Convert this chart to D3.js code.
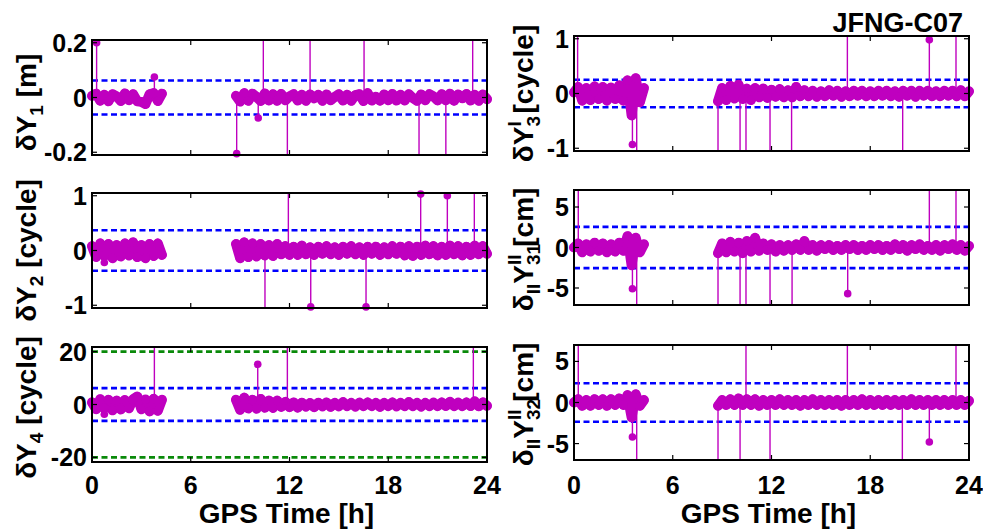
<!DOCTYPE html>
<html><head><meta charset="utf-8">
<script src="https://cdn.jsdelivr.net/npm/d3@7"></script>
<style>
body{margin:0;background:#fff}
svg{display:block}
text{font-family:"Liberation Sans",Arial,Helvetica,sans-serif;font-weight:bold;fill:#000}
</style>
</head><body>
<svg id="c" width="983" height="530"></svg>
<script>
// ---------------- DATA ----------------
const title = "JFNG-C07";
const xLabel = "GPS Time [h]";
const xTicks = [0, 6, 12, 18, 24];

// shared epochs (hours)
const epochs = [
  0, 0.25, 0.5, 0.75, 1, 1.25, 1.5, 1.75, 2, 2.25, 2.5, 2.75, 3, 3.25, 3.5, 3.75, 4, 4.25,
  8.75, 9, 9.25, 9.5, 9.75, 10, 10.25, 10.5, 10.75, 11, 11.25, 11.5, 11.75, 12, 12.25, 12.5,
  12.75, 13, 13.25, 13.5, 13.75, 14, 14.25, 14.5, 14.75, 15, 15.25, 15.5, 15.75, 16, 16.25,
  16.5, 16.75, 17, 17.25, 17.5, 17.75, 18, 18.25, 18.5, 18.75, 19, 19.25, 19.5, 19.75, 20,
  20.25, 20.5, 20.75, 21, 21.25, 21.5, 21.75, 22, 22.25, 22.5, 22.75, 23, 23.25, 23.5, 23.75, 24
];

// dY1 [m]
const dY1 = [
  0.006, 0.014, -0.012, 0.010, -0.014, 0.012, 0.004, -0.013, 0.015, -0.010, 0.012, -0.014, -0.016, -0.024, 0.012, 0.016, -0.013, 0.014,
  0.006, -0.015, 0.016, -0.012, 0.014, 0.002, -0.013, 0.015, -0.011, 0.012,
  -0.012, 0.013, -0.010, 0.004, 0.012, -0.011, 0.010, -0.012, 0.011, -0.003,
  0.010, -0.012, 0.011, -0.010, 0.002, 0.012, -0.011, 0.010, -0.012, 0.009,
  0.012, -0.013, 0.016, -0.011, 0.003, -0.012, 0.011, -0.010, 0.013, -0.011,
  0.010, -0.011, 0.012, -0.002, -0.012, 0.011, -0.010, 0.012, 0.004, -0.011,
  0.012, -0.010, 0.014, -0.012, 0.011, -0.003, 0.013, -0.011, 0.010, -0.012,
  0.011, -0.006
];
const dY1Outliers = [[0.28, 0.2], [3.79, 0.075], [8.79, -0.205], [10.1, -0.075], [10.41, 0.5], [11.87, -0.5],
  [13.25, 0.5], [16.53, 0.5], [19.87, -0.5], [21.5, -0.5], [23.13, 0.5]];
const dY1Ticks = [-0.2, 0, 0.2];
const dY1Bounds = [-0.062, 0.062];

// dY2 [cycle]
const dY2 = [
  0.08, -0.12, 0.13, -0.10, 0.12, -0.14, 0.10, -0.11, 0.13, -0.09, 0.15, -0.12, 0.10, -0.14, 0.12, -0.10, 0.13, -0.08,
  0.12, -0.14, 0.15, -0.12, 0.13, -0.11, 0.12, -0.09, 0.10, -0.10,
  0.12, -0.07, 0.08, -0.08, 0.07, -0.08, 0.09, -0.07, 0.06, -0.08,
  0.07, -0.06, 0.08, -0.07, 0.06, -0.08, 0.07, -0.06, 0.08, -0.07,
  0.06, -0.08, 0.07, -0.06, 0.07, -0.08, 0.06, -0.07, 0.08, -0.06,
  0.07, -0.09, 0.08, -0.10, 0.07, -0.08, 0.09, -0.07, 0.08, -0.09,
  0.07, -0.08, 0.09, -0.07, 0.08, -0.09, 0.07, -0.08, 0.09, -0.07,
  0.08, -0.06
];
const dY2Outliers = [[0.75, -0.22], [10.51, -2], [11.93, 2], [13.29, -1.03], [16.65, -1.03], [19.97, 1.03], [21.59, 1.0], [23.23, 2]];
const dY2Ticks = [-1, 0, 1];
const dY2Bounds = [-0.37, 0.37];

// dY4 [cycle]
const dY4 = [
  0.8, -1.8, 2.0, -1.5, 1.8, -2.2, 1.5, -1.9, 1.7, -1.4, 2.0, 3.0, -1.8, 1.9, -2.6, 2.2, -2.4, 1.8,
  1.8, -2.0, 2.6, -1.5, 1.8, -1.6, 2.1, -1.2, 1.5, -1.3,
  1.5, -0.9, 1.0, -1.0, 0.8, -1.2, 0.7, -0.8, 0.6, -1.0,
  0.7, -0.7, 0.8, -0.9, 0.6, -0.7, 0.9, -0.6, 0.6, -0.8,
  0.7, -0.6, 0.8, -0.6, 0.6, -0.9, 0.6, -0.6, 0.8, -0.7,
  0.6, -0.6, 0.9, -0.6, 0.6, -0.8, 0.6, -0.6, 0.7, -0.6,
  0.8, -0.6, 1.0, -0.6, 0.7, -0.6, 0.8, -0.6, 1.2, -0.7,
  0.8, -0.5
];
const dY4Outliers = [[0.75, -3.7], [3.79, 30], [10.07, 15.2], [11.87, 30], [23.17, 30]];
const dY4Ticks = [-20, 0, 20];
const dY4Bounds = [-6.2, 6.2];
const dY4Limits = [-20, 20];

// dY3^I [cycle]
const dY3 = [
  0.02, 0.12, -0.13, 0.10, -0.12, 0.13, -0.10, 0.12, -0.13, 0.11, -0.10, 0.15, -0.13, 0.24, -0.40, 0.28, -0.16, 0.10,
  -0.14, 0.10, -0.12, 0.14, -0.09, 0.16, -0.10, 0.09, -0.12, 0.10,
  -0.07, 0.09, -0.08, 0.07, -0.06, 0.08, -0.07, 0.06, -0.07, 0.12,
  -0.05, 0.06, -0.05, 0.05, -0.06, 0.04, -0.05, 0.06, -0.04, 0.05,
  -0.06, 0.04, -0.05, 0.05, -0.04, 0.05, -0.05, 0.04, -0.05, 0.05,
  -0.04, 0.05, -0.05, 0.04, -0.06, 0.05, -0.04, 0.05, -0.06, 0.05,
  -0.04, 0.05, -0.05, 0.04, -0.05, 0.05, -0.04, 0.05, -0.05, 0.06,
  -0.05, 0.04
];
const dY3Outliers = [[0.22, 2], [3.55, -0.93], [3.81, -2], [8.75, -2], [10.09, -2], [10.45, -2], [11.91, -2],
  [13.22, -2], [16.61, 2], [19.97, -2], [21.59, 0.98], [23.21, 2]];
const dY3Ticks = [-1, 0, 1];
const dY3Bounds = [-0.25, 0.25];

// dII Y^II_31 [cm]
const dY31 = [
  0.0, 0.5, -0.6, 0.4, -0.5, 0.6, -0.4, 0.5, -0.6, 0.4, -0.5, 0.6, -0.4, 1.4, -2.2, 1.2, -0.6, 0.4,
  -0.7, 0.5, -0.6, 0.7, -0.5, 0.6, -0.7, 0.8, -0.5, 1.2,
  -0.4, 0.5, -0.3, 0.4, -0.5, 0.3, -0.4, 0.3, -0.3, 0.4,
  -0.3, 0.8, -0.3, 0.3, -0.4, 0.3, -0.2, 0.3, -0.3, 0.2,
  -0.3, 0.3, -0.2, 0.3, -0.3, 0.2, -0.3, 0.3, -0.2, 0.3,
  -0.3, 0.2, -0.3, 0.4, -0.2, 0.3, -0.4, 0.3, -0.2, 0.4,
  -0.3, 0.2, -0.3, 0.3, -0.4, 0.3, -0.2, 0.4, -0.3, 0.3,
  -0.4, 0.2
];
const dY31Outliers = [[0.26, 10], [3.55, -5.1], [3.81, -10], [8.75, -10], [10.09, -10], [10.45, -10], [11.91, -10],
  [13.25, -10], [16.63, -5.7], [21.59, 10], [23.21, 10]];
const dY31Ticks = [-5, 0, 5];
const dY31Bounds = [-2.55, 2.55];

// dII Y^II_32 [cm]
const dY32 = [
  0.0, 0.4, -0.4, 0.3, -0.4, 0.4, -0.3, 0.4, -0.4, 0.4, -0.3, 0.5, -0.3, 0.9, -1.8, 1.0, -0.4, 0.3,
  -0.4, 0.3, -0.3, 0.4, -0.3, 0.5, -0.3, 0.4, -0.3, 0.4,
  -0.4, 0.3, -0.3, 0.3, -0.3, 0.4, -0.3, 0.3, -0.3, 0.3,
  -0.4, 0.3, -0.3, 0.4, -0.3, 0.3, -0.3, 0.3, -0.3, 0.3,
  -0.4, 0.3, -0.3, 0.3, -0.3, 0.4, -0.3, 0.3, -0.3, 0.3,
  -0.3, 0.3, -0.3, 0.3, -0.3, 0.3, -0.3, 0.4, -0.3, 0.3,
  -0.3, 0.3, -0.3, 0.3, -0.3, 0.3, -0.3, 0.3, -0.3, 0.3,
  -0.3, 0.2
];
const dY32Outliers = [[0.26, 10], [3.55, -4.2], [3.81, -10], [8.75, -10], [10.09, -10], [10.45, 10], [11.91, -10],
  [16.61, 10], [19.95, -10], [21.59, -4.8], [23.21, 10]];
const dY32Ticks = [-5, 0, 5];
const dY32Bounds = [-2.35, 2.35];

// ---------------- LAYOUT / STYLE ----------------
const MAG = "#bf00bf", BLUE = "#0000ff", GREEN = "#0a8a0a";
const panels = [
  {vals: dY1, out: dY1Outliers, ticks: dY1Ticks, bounds: dY1Bounds, dom: [-0.21, 0.21],
   box: {x: 92, y: 40, w: 395, h: 115}, labelX: 36, labelDY: 5,
   label: [{t: "δY"}, {sub: "1"}, {t: " [m]"}]},
  {vals: dY2, out: dY2Outliers, ticks: dY2Ticks, bounds: dY2Bounds, dom: [-1.05, 1.05],
   box: {x: 92, y: 193, w: 395, h: 115}, labelX: 36, labelDY: 0,
   label: [{t: "δY"}, {sub: "2"}, {t: " [cycle]"}]},
  {vals: dY4, out: dY4Outliers, ticks: dY4Ticks, bounds: dY4Bounds, limits: dY4Limits, dom: [-21.75, 21.75],
   box: {x: 92, y: 347, w: 395, h: 115}, labelX: 36, labelDY: 3, xaxis: true,
   label: [{t: "δY"}, {sub: "4"}, {t: " [cycle]"}]},
  {vals: dY3, out: dY3Outliers, ticks: dY3Ticks, bounds: dY3Bounds, dom: [-1.05, 1.05],
   box: {x: 574, y: 36, w: 395, h: 115}, labelX: 533, labelDY: 0,
   label: [{t: "δY"}, {subsup: ["3", "I"]}, {t: " [cycle]"}]},
  {vals: dY31, out: dY31Outliers, ticks: dY31Ticks, bounds: dY31Bounds, dom: [-7.1, 7.1],
   box: {x: 574, y: 190, w: 395, h: 115}, labelX: 533, labelDY: 2,
   label: [{t: "δ"}, {sub: "II"}, {t: "Y"}, {subsup: ["31", "II"]}, {t: " [cm]"}]},
  {vals: dY32, out: dY32Outliers, ticks: dY32Ticks, bounds: dY32Bounds, dom: [-7, 7],
   box: {x: 574, y: 345, w: 395, h: 115}, labelX: 533, labelDY: 2, xaxis: true,
   label: [{t: "δ"}, {sub: "II"}, {t: "Y"}, {subsup: ["32", "II"]}, {t: " [cm]"}]}
];

const svg = d3.select("#c");

panels.forEach((p, i) => {
  const b = p.box;
  const x = d3.scaleLinear().domain([0, 24]).range([b.x, b.x + b.w]);
  const y = d3.scaleLinear().domain(p.dom).range([b.y + b.h, b.y]);
  const g = svg.append("g");
  const cid = "clip" + i;
  svg.append("clipPath").attr("id", cid).append("rect")
    .attr("x", b.x).attr("y", b.y).attr("width", b.w).attr("height", b.h);

  // threshold lines
  const dash = (v, col) => g.append("line")
    .attr("x1", x(0)).attr("x2", x(24)).attr("y1", y(v)).attr("y2", y(v))
    .attr("stroke", col).attr("stroke-width", 2.6).attr("stroke-dasharray", "6,3.5");
  if (p.limits) p.limits.forEach(v => dash(v, GREEN));
  p.bounds.forEach(v => dash(v, BLUE));

  // data
  const pts = epochs.map((t, k) => [t, p.vals[k]]);
  const segs = [];
  pts.forEach((d, k) => {
    if (k === 0 || d[0] - pts[k - 1][0] > 1) segs.push([]);
    segs[segs.length - 1].push(d);
  });
  const dg = g.append("g");
  const line = d3.line().x(d => x(d[0])).y(d => y(d[1]));
  dg.append("g").attr("clip-path", `url(#${cid})`).selectAll("line").data(p.out).join("line")
    .attr("x1", d => x(d[0])).attr("x2", d => x(d[0]))
    .attr("y1", y(0)).attr("y2", d => y(d[1]))
    .attr("stroke", MAG).attr("stroke-width", 1.4);
  segs.forEach(s => {
    dg.append("path").attr("d", line(s)).attr("fill", "none").attr("stroke", MAG)
      .attr("stroke-width", 10).attr("stroke-linejoin", "round").attr("stroke-linecap", "round");
  });
  dg.selectAll("circle.band").data(pts).join("circle").attr("class", "band")
    .attr("cx", d => x(d[0])).attr("cy", d => y(d[1])).attr("r", 4.6).attr("fill", MAG);
  dg.selectAll("circle.out").data(p.out.filter(d => d[1] >= p.dom[0] && d[1] <= p.dom[1]))
    .join("circle").attr("class", "out")
    .attr("cx", d => x(d[0])).attr("cy", d => y(d[1])).attr("r", 3.8).attr("fill", MAG);

  // box and ticks
  const tl = 5;
  const ag = g.append("g").attr("stroke", "#000").attr("stroke-width", 1.2);
  xTicks.forEach(t => {
    ag.append("line").attr("x1", x(t)).attr("x2", x(t)).attr("y1", b.y + b.h).attr("y2", b.y + b.h - tl);
    ag.append("line").attr("x1", x(t)).attr("x2", x(t)).attr("y1", b.y).attr("y2", b.y + tl);
  });
  p.ticks.forEach(t => {
    ag.append("line").attr("x1", b.x).attr("x2", b.x + tl).attr("y1", y(t)).attr("y2", y(t));
    ag.append("line").attr("x1", b.x + b.w).attr("x2", b.x + b.w - tl).attr("y1", y(t)).attr("y2", y(t));
  });
  g.append("rect").attr("x", b.x).attr("y", b.y).attr("width", b.w).attr("height", b.h)
    .attr("fill", "none").attr("stroke", "#000").attr("stroke-width", 2);

  // y tick labels
  g.selectAll("text.yt").data(p.ticks).join("text").attr("class", "yt")
    .attr("x", b.x - 5).attr("y", d => y(d)).attr("dy", "0.36em")
    .attr("text-anchor", "end").attr("font-size", 25).text(d => String(d));

  // x tick labels
  if (p.xaxis) {
    g.selectAll("text.xt").data(xTicks).join("text").attr("class", "xt")
      .attr("x", d => x(d)).attr("y", 494).attr("text-anchor", "middle").attr("font-size", 25).text(d => d);
    g.append("text").attr("x", b.x + b.w / 2 - 3).attr("y", 523).attr("text-anchor", "middle")
      .attr("font-size", 28).text(xLabel);
  }

  // y label (rotated)
  const lg = g.append("g");
  const txt = lg.append("text").attr("font-size", 28);
  let cur = 0;
  const SUB = 7, SUP = -12, SFS = 19;
  p.label.forEach(part => {
    if (part.t) {
      txt.append("tspan").attr("dy", 0 - cur).text(part.t); cur = 0;
    } else if (part.sub) {
      txt.append("tspan").attr("dy", SUB - cur).attr("font-size", SFS).text(part.sub); cur = SUB;
    } else if (part.subsup) {
      const s = txt.append("tspan").attr("dy", SUB - cur).attr("font-size", SFS).text(part.subsup[0]);
      const sl = s.node().getComputedTextLength();
      const u = txt.append("tspan").attr("dx", -sl).attr("dy", SUP - SUB).attr("font-size", SFS).text(part.subsup[1]);
      const ul = u.node().getComputedTextLength();
      cur = SUP;
      txt.append("tspan").attr("dx", Math.max(0, sl - ul)).text("");
    }
  });
  const bb = txt.node().getBBox();
  txt.attr("x", -bb.x - bb.width / 2);
  lg.attr("transform", `translate(${p.labelX},${b.y + b.h / 2 + p.labelDY}) rotate(-90)`);
});

svg.append("text").attr("x", 963).attr("y", 32).attr("text-anchor", "end").attr("font-size", 27).text(title);
</script>
</body></html>
